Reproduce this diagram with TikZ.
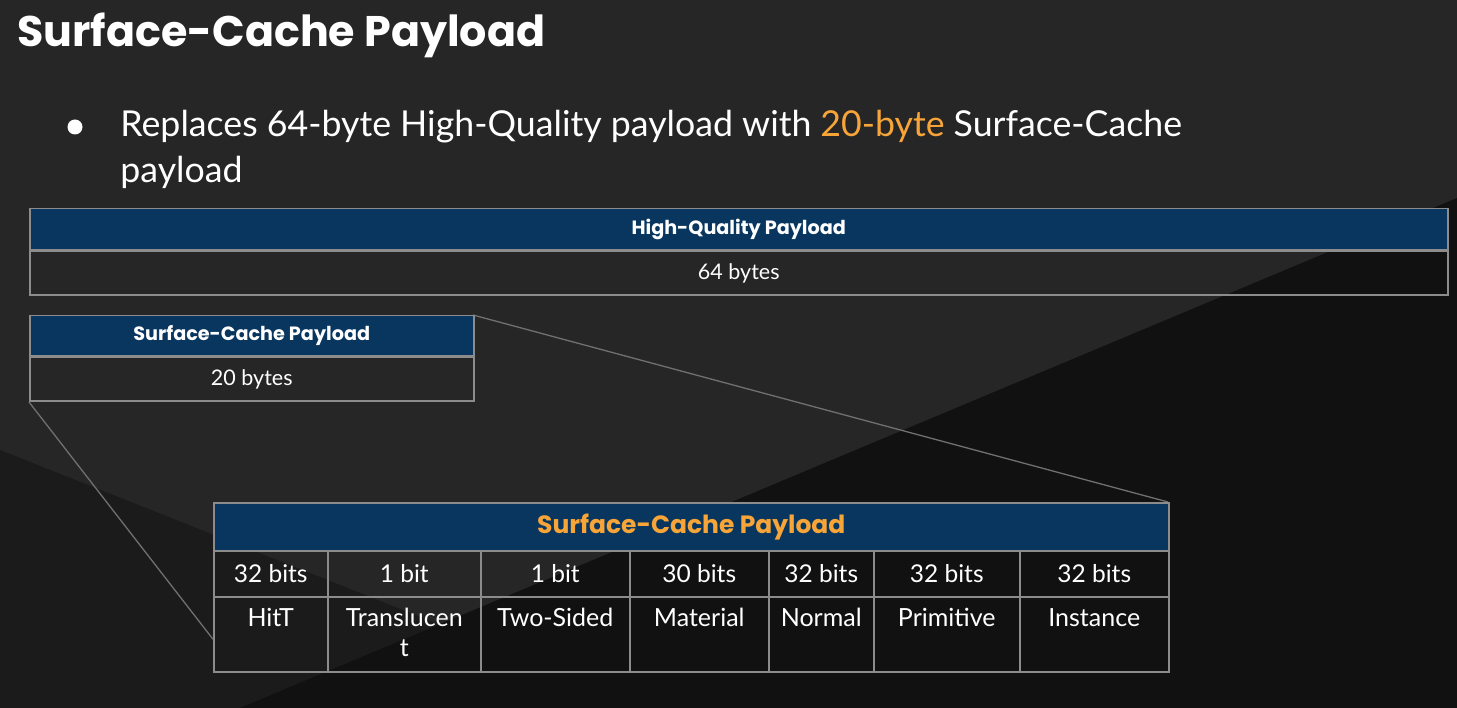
\documentclass[tikz,border=0pt]{standalone}
\usepackage{fontspec}
\setmainfont{Lato}
\newfontfamily\headfont{Poppins}
\usetikzlibrary{positioning}

\definecolor{bgbase}{HTML}{262626}
\definecolor{bgmid}{HTML}{1B1B1B}
\definecolor{bgdark}{HTML}{111111}
\definecolor{hdrblue}{HTML}{08365F}
\definecolor{gridgray}{HTML}{8C8C8C}
\definecolor{linkgray}{HTML}{707070}
\definecolor{accent}{HTML}{F7A538}

\begin{document}
\begin{tikzpicture}[x=1pt, y=-1pt, thick]

   \tikzstyle{hdr}=[rectangle, draw=gridgray, line width=1.5pt, fill=hdrblue, text=white, anchor=north west, inner sep=0pt, font=\headfont\bfseries\fontsize{19.2}{23}\selectfont]
   \tikzstyle{body}=[rectangle, draw=gridgray, line width=1.5pt, text=white, anchor=north west, inner sep=0pt, font=\fontsize{21.5}{25}\selectfont]
   \tikzstyle{bits}=[rectangle, draw=gridgray, line width=1.5pt, text=white, anchor=north west, inner sep=0pt, minimum height=46pt, font=\fontsize{24.5}{28}\selectfont]
   \tikzstyle{field}=[rectangle, draw=gridgray, line width=1.5pt, anchor=north west, inner sep=0pt, minimum height=75pt]
   \tikzstyle{fieldtxt}=[anchor=north, inner sep=0pt, align=center, text=white, yshift=-12pt, font=\fontsize{25}{30}\selectfont]
   \tikzstyle{conn}=[draw=linkgray, line width=1.3pt]

   % background
   \fill[bgbase] (0,0) rectangle (1457,708);
   \fill[bgmid] (0,450) -- (650,708) -- (0,708) -- cycle;
   \fill[bgdark] (240,708) -- (1457,198) -- (1457,708) -- cycle;
   \useasboundingbox (0,0) rectangle (1457,708);

   % title and bullet
   \node[anchor=base west, inner sep=0pt, text=white, font=\headfont\bfseries\fontsize{42.8}{50}\selectfont] (title) at (17,47) {Surface-Cache Payload};
   \node[circle, fill=white, inner sep=0pt, minimum size=15pt] (dot) at (75,127) {};
   \node[anchor=base west, inner sep=0pt, text=white, font=\fontsize{35.7}{46}\selectfont] (line1) at (120,137) {Replaces 64-byte High-Quality payload with {\color{accent}20-byte} Surface-Cache};
   \node[anchor=base west, inner sep=0pt, text=white, font=\fontsize{35.7}{46}\selectfont] (line2) at (120,183) {payload};

   % links
   \coordinate (sctr) at (473,315);
   \draw[conn] (sctr) -- (1168,502);

   % high-quality payload
   \node[hdr, minimum width=1418pt, minimum height=41pt] (hqhead) at (29,208) {High-Quality Payload};
   \node[body, minimum width=1418pt, minimum height=44pt] (hqbody) at (hqhead.south west) {64 bytes};

   % surface-cache payload
   \node[hdr, minimum width=444pt, minimum height=40pt] (schead) at (29,315) {Surface-Cache Payload};
   \node[body, minimum width=444pt, minimum height=44pt] (scbody) at (schead.south west) {20 bytes};

   % layout
   \node[hdr, minimum width=955pt, minimum height=48pt, text=accent, font=\headfont\bfseries\fontsize{25}{30}\selectfont] (bighead) at (213,502) {Surface-Cache Payload};

   \node[bits, minimum width=114pt] (b1) at (213,550) {32 bits};
   \node[bits, minimum width=153pt] (b2) at (327,550) {1 bit};
   \node[bits, minimum width=149pt] (b3) at (480,550) {1 bit};
   \node[bits, minimum width=139pt] (b4) at (629,550) {30 bits};
   \node[bits, minimum width=105pt] (b5) at (768,550) {32 bits};
   \node[bits, minimum width=146pt] (b6) at (873,550) {32 bits};
   \node[bits, minimum width=149pt] (b7) at (1019,550) {32 bits};

   \node[field, minimum width=114pt] (f1) at (213,596) {};
   \node[field, minimum width=153pt] (f2) at (327,596) {};
   \node[field, minimum width=149pt] (f3) at (480,596) {};
   \node[field, minimum width=139pt] (f4) at (629,596) {};
   \node[field, minimum width=105pt] (f5) at (768,596) {};
   \node[field, minimum width=146pt] (f6) at (873,596) {};
   \node[field, minimum width=149pt] (f7) at (1019,596) {};

   \node[fieldtxt] (t1) at (f1.north) {HitT};
   \node[fieldtxt] (t2) at (f2.north) {Translucen\\t};
   \node[fieldtxt] (t3) at (f3.north) {Two-Sided};
   \node[fieldtxt] (t4) at (f4.north) {Material};
   \node[fieldtxt] (t5) at (f5.north) {Normal};
   \node[fieldtxt] (t6) at (f6.north) {Primitive};
   \node[fieldtxt] (t7) at (f7.north) {Instance};

   \draw[conn] (scbody.south west) -- ([yshift=-5pt]f1.west);
\end{tikzpicture}
\end{document}
